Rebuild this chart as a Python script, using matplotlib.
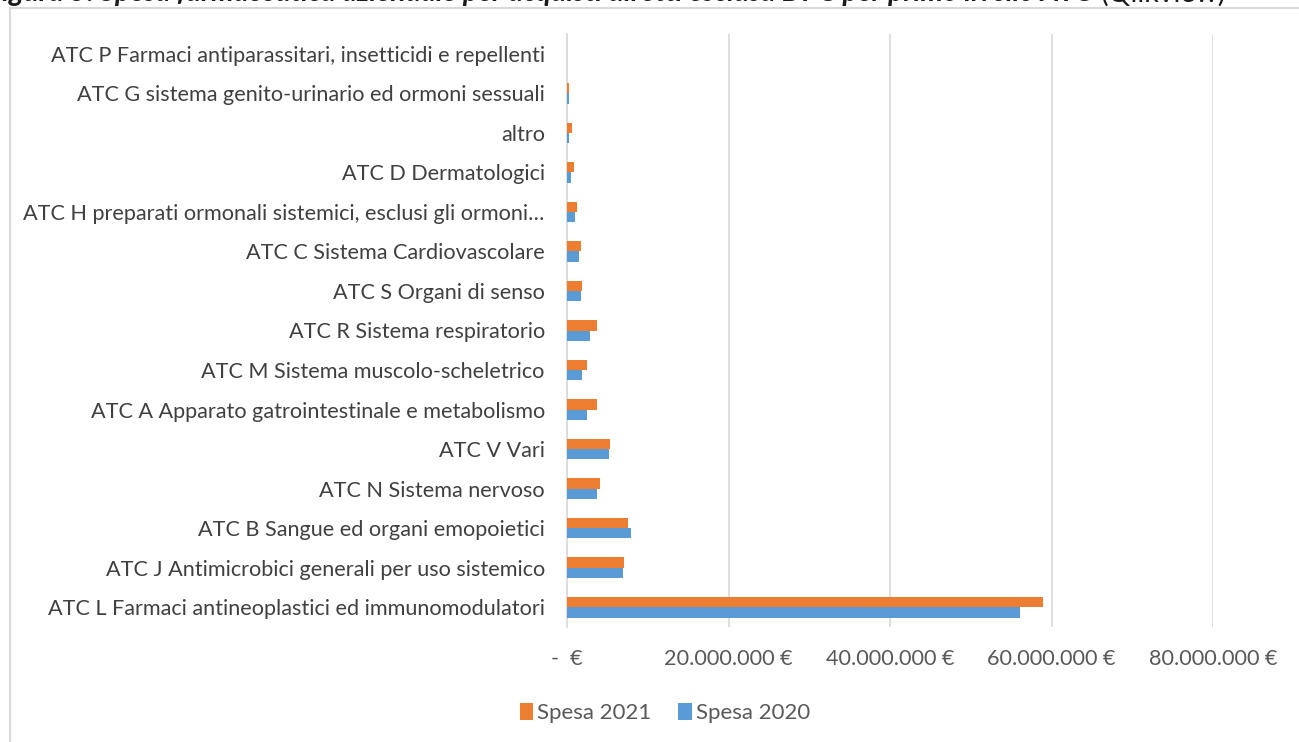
#!/usr/bin/env python3
# Spesa farmaceutica per primo livello ATC, 2020 vs 2021 (barre orizzontali)

import numpy as np
import matplotlib.pyplot as plt
from matplotlib.patches import Rectangle
from matplotlib.ticker import FuncFormatter

plt.rcParams['font.family'] = ['Lato', 'DejaVu Sans']

# categorie dal basso verso l'alto
categorie = [
    'ATC L Farmaci antineoplastici ed immunomodulatori',
    'ATC J Antimicrobici generali per uso sistemico',
    'ATC B Sangue ed organi emopoietici',
    'ATC N Sistema nervoso',
    'ATC V Vari',
    'ATC A Apparato gatrointestinale e metabolismo',
    'ATC M Sistema muscolo-scheletrico',
    'ATC R Sistema respiratorio',
    'ATC S Organi di senso',
    'ATC C Sistema Cardiovascolare',
    'ATC H preparati ormonali sistemici, esclusi gli ormoni…',
    'ATC D Dermatologici',
    'altro',
    'ATC G sistema genito-urinario ed ormoni sessuali',
    'ATC P Farmaci antiparassitari, insetticidi e repellenti',
]

# valori in euro (stimati dal grafico)
spesa_2021 = [58.9e6, 7.0e6, 7.5e6, 4.1e6, 5.3e6, 3.7e6, 2.5e6, 3.7e6,
              1.9e6, 1.7e6, 1.2e6, 0.9e6, 0.6e6, 0.2e6, 0.02e6]
spesa_2020 = [56.1e6, 6.9e6, 7.9e6, 3.7e6, 5.2e6, 2.5e6, 1.8e6, 2.8e6,
              1.7e6, 1.5e6, 1.0e6, 0.5e6, 0.3e6, 0.25e6, 0.01e6]

x_ticks = [0, 20e6, 40e6, 60e6, 80e6]

arancio = '#ED7D31'
blu = '#5B9BD5'
grigio = '#595959'

fig = plt.figure(figsize=(12.99, 7.42), dpi=100)
W, H = 1299, 742
ax = fig.add_axes([567 / W, 1 - 627 / H, (1213 - 567) / W, (627 - 34) / H])

y = np.arange(len(categorie))
h = 0.26
ax.barh(y + h / 2, spesa_2021, height=h, color=arancio, label='Spesa 2021', zorder=3)
ax.barh(y - h / 2, spesa_2020, height=h, color=blu, label='Spesa 2020', zorder=3)

ax.set_ylim(-0.5, len(categorie) - 0.5)
ax.set_xlim(0, 80e6)
ax.set_yticks(y)
ax.set_yticklabels(categorie, fontsize=15.6, color='#404040')
ax.set_xticks(x_ticks)


def fmt_euro(v, pos):
    if v == 0:
        return '-  €'
    return f'{int(v):,}'.replace(',', '.') + ' €'


ax.xaxis.set_major_formatter(FuncFormatter(fmt_euro))
ax.tick_params(axis='x', labelsize=15.6, labelcolor=grigio, length=0, pad=16)
ax.tick_params(axis='y', length=0, pad=16)
ax.grid(axis='x', color='#d9d9d9', linewidth=1.2, zorder=0)
for s in ['top', 'right', 'bottom']:
    ax.spines[s].set_visible(False)
ax.spines['left'].set_color('#d9d9d9')
ax.spines['left'].set_linewidth(1.2)

# bordo dell'area grafico
fig.patches.append(Rectangle((10 / W, -0.05), 1.1, 1 - 7.5 / H + 0.05,
                             transform=fig.transFigure, fill=False,
                             edgecolor='#d9d9d9', linewidth=1.5))

# titolo tagliato in alto
t1 = fig.text(-13 / W, 1 - 1.5 / H,
              'Figura 5: Spesa farmaceutica aziendale per acquisti diretti esclusa DPC per primo livello ATC',
              fontsize=20.5, fontweight='bold', fontstyle='italic', color='#1a1a1a',
              va='baseline', ha='left')
fig.canvas.draw()
bb = t1.get_window_extent(fig.canvas.get_renderer())
fig.text(bb.x1 / W + 8 / W, 1 - 1.5 / H, '(Qlikview)', fontsize=20.5,
         color='#1a1a1a', va='baseline', ha='left')

handles, labels = ax.get_legend_handles_labels()
fig.legend(handles, labels, loc='center', bbox_to_anchor=(665 / W, 1 - 713 / H),
           ncol=2, frameon=False, fontsize=16, handlelength=0.6, handleheight=0.8,
           handletextpad=0.2, columnspacing=1.2, labelcolor=grigio)

plt.savefig('out.png', dpi=100)
